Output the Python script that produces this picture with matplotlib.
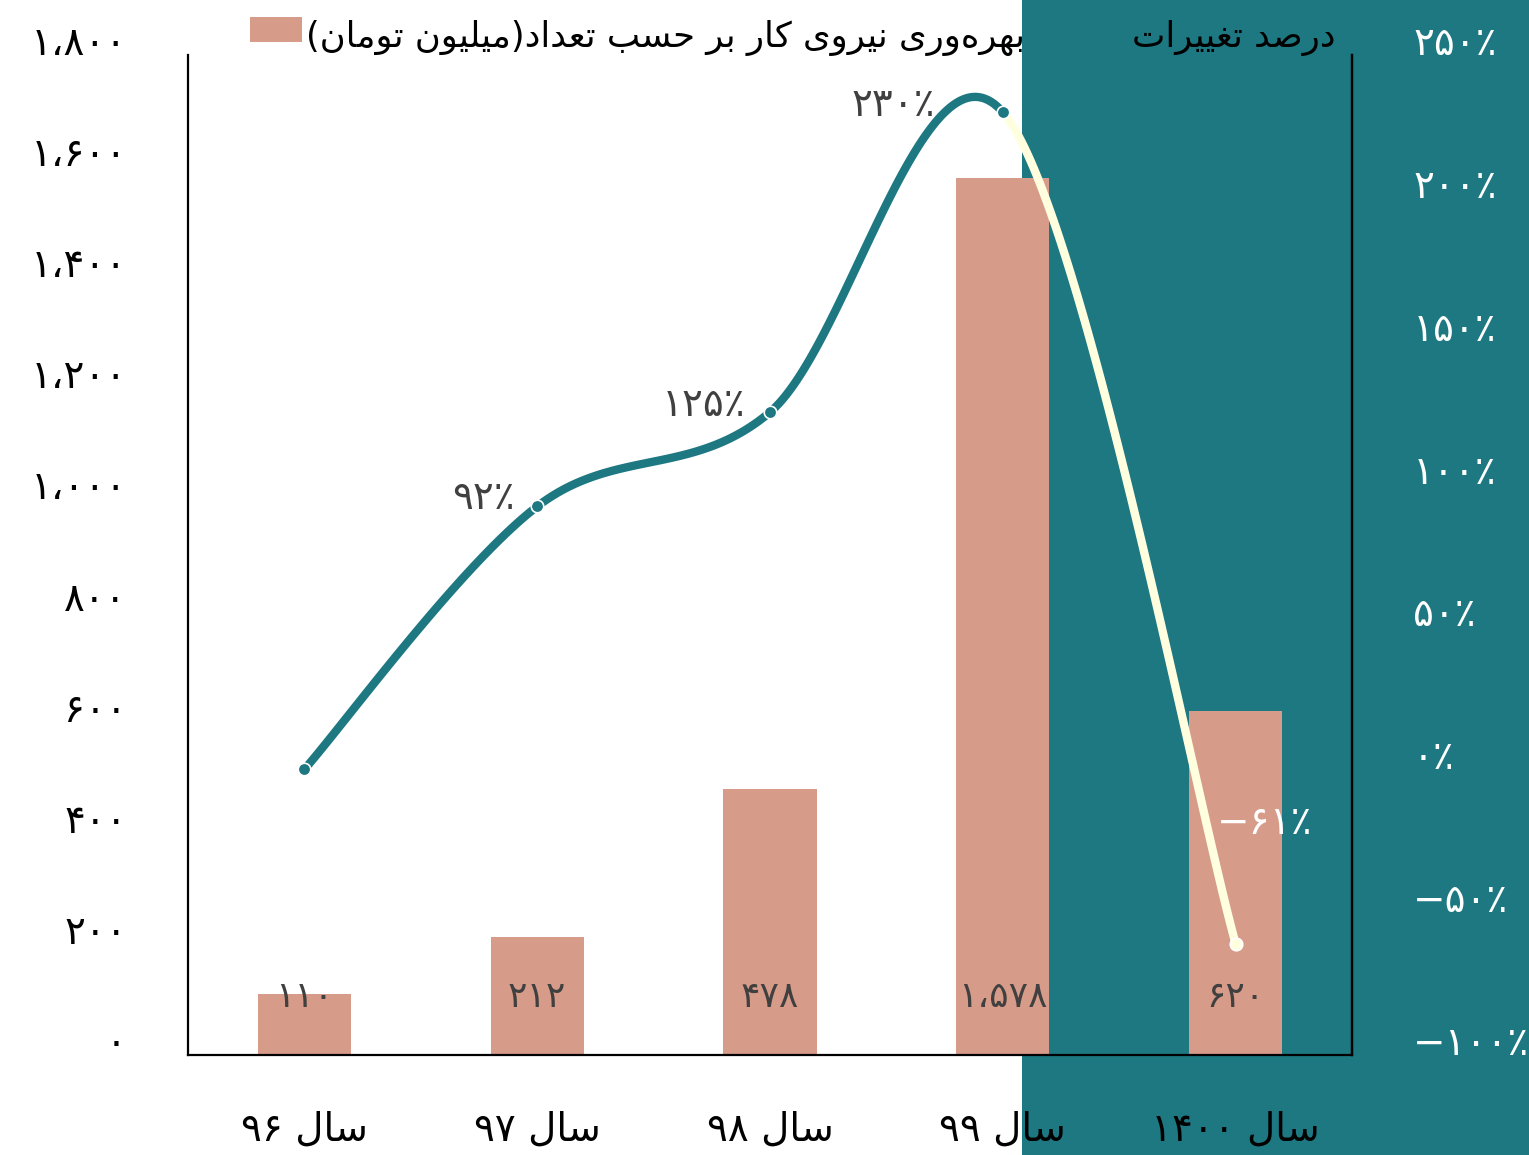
import numpy as np
import matplotlib
matplotlib.use("Agg")
import matplotlib.pyplot as plt
from matplotlib.patches import Rectangle
from matplotlib.transforms import ScaledTranslation

# ---------------- data ----------------
year_labels = ["سال ۹۶", "سال ۹۷", "سال ۹۸", "سال ۹۹", "سال ۱۴۰۰"]
productivity = [110, 212, 478, 1578, 620]          # million toman
change_pct = [0, 92, 125, 230, -61]                 # percent
show_pct_label = [False, True, True, True, True]
left_ticks = [0, 200, 400, 600, 800, 1000, 1200, 1400, 1600, 1800]
right_ticks = [-100, -50, 0, 50, 100, 150, 200, 250]
legend_bar = "بهره‌وری نیروی کار بر حسب تعداد(میلیون تومان)"
legend_line = "درصد تغییرات"

# ---------------- colours ----------------
TEAL = "#1D7882"
BAR = "#D79B89"
YELLOW = "#FFFFE0"
GRAY = "#404040"

FONT = ["DejaVu Sans"]
plt.rcParams["font.family"] = FONT

# ---------------- minimal Persian shaping ----------------
DUAL = {
    "ب": (0xFE8F, 0xFE90, 0xFE91, 0xFE92), "ت": (0xFE95, 0xFE96, 0xFE97, 0xFE98),
    "ح": (0xFEA1, 0xFEA2, 0xFEA3, 0xFEA4), "س": (0xFEB1, 0xFEB2, 0xFEB3, 0xFEB4),
    "ص": (0xFEB9, 0xFEBA, 0xFEBB, 0xFEBC), "ع": (0xFEC9, 0xFECA, 0xFECB, 0xFECC),
    "غ": (0xFECD, 0xFECE, 0xFECF, 0xFED0), "ک": (0xFB8E, 0xFB8F, 0xFB90, 0xFB91),
    "ل": (0xFEDD, 0xFEDE, 0xFEDF, 0xFEE0), "م": (0xFEE1, 0xFEE2, 0xFEE3, 0xFEE4),
    "ن": (0xFEE5, 0xFEE6, 0xFEE7, 0xFEE8), "ه": (0xFEE9, 0xFEEA, 0xFEEB, 0xFEEC),
    "ی": (0xFBFC, 0xFBFD, 0xFBFE, 0xFBFF),
}
RIGHT = {"ا": (0xFE8D, 0xFE8E), "د": (0xFEA9, 0xFEAA), "ر": (0xFEAD, 0xFEAE),
         "ز": (0xFEAF, 0xFEB0), "و": (0xFEED, 0xFEEE)}


def shape(word):
    out = []
    n = len(word)
    for i, ch in enumerate(word):
        if ch in DUAL or ch in RIGHT:
            prev = word[i - 1] if i > 0 else ""
            nxt = word[i + 1] if i < n - 1 else ""
            jp = prev in DUAL
            jn = (ch in DUAL) and (nxt in DUAL or nxt in RIGHT)
            if ch in RIGHT:
                out.append(chr(RIGHT[ch][1] if jp else RIGHT[ch][0]))
            else:
                f = DUAL[ch]
                if jp and jn:
                    out.append(chr(f[3]))
                elif jp:
                    out.append(chr(f[1]))
                elif jn:
                    out.append(chr(f[2]))
                else:
                    out.append(chr(f[0]))
        elif ch == "\u200c":
            continue
        else:
            out.append(ch)
    return "".join(out)


def is_digit_token(tok):
    return all(c in "۰۱۲۳۴۵۶۷۸۹0123456789،٪−-." for c in tok)


def rtl(text):
    toks = text.split(" ")
    vis = []
    for t in reversed(toks):
        if is_digit_token(t):
            vis.append(t)
        else:
            s = shape(t)[::-1]
            s = s.translate(str.maketrans("()", ")("))
            vis.append(s)
    return " ".join(vis)


FA = str.maketrans("0123456789", "۰۱۲۳۴۵۶۷۸۹")


def fa_num(v, sep=True):
    s = f"{abs(v):,}" if sep else f"{abs(v)}"
    s = s.replace(",", "،").translate(FA)
    return ("−" if v < 0 else "") + s


# ---------------- figure ----------------
fig = plt.figure(figsize=(15.29, 11.55), dpi=100)
fig.patch.set_facecolor("white")
fig.patches.append(Rectangle((1022 / 1529, 0), 1 - 1022 / 1529, 1,
                             transform=fig.transFigure, facecolor=TEAL,
                             edgecolor="none", zorder=-5))

ax = fig.add_axes([188 / 1529, 1 - 1055 / 1155, (1352 - 188) / 1529, 1000 / 1155])
ax.patch.set_visible(False)
x = np.arange(len(productivity))
ax.bar(x, productivity, width=0.4, color=BAR, zorder=2)
ax.set_xlim(-0.5, len(productivity) - 0.5)
ax.set_ylim(0, 1800)
ax.set_yticks(left_ticks)
ax.set_yticklabels([fa_num(v) for v in left_ticks], fontsize=28, color="black")
ax.set_xticks(x)
ax.set_xticklabels([rtl(s) for s in year_labels], fontsize=28, color="black")
ax.tick_params(axis="y", length=0, pad=44)
ax.tick_params(axis="x", length=0, pad=40)
ax.spines["top"].set_visible(False)
for sp in ["left", "bottom", "right"]:
    ax.spines[sp].set_linewidth(1.6)
    ax.spines[sp].set_color("black")

# bar value labels
for xi, v in zip(x, productivity):
    ax.text(xi, 104, fa_num(v), ha="center", va="center", fontsize=26,
            color=GRAY, zorder=5)

ax2 = ax.twinx()
ax2.patch.set_visible(False)
ax2.set_ylim(-100, 250)
ax2.set_yticks(right_ticks)
ax2.set_yticklabels([fa_num(v) + "٪" for v in right_ticks], fontsize=28, color="white")
ax2.tick_params(axis="y", length=0, pad=44)
for sp in ["top", "left", "bottom"]:
    ax2.spines[sp].set_visible(False)
ax2.spines["right"].set_linewidth(1.6)

# shift tick labels up a little
off = ScaledTranslation(0, 15 / 100, fig.dpi_scale_trans)
for lab in ax.get_yticklabels() + ax2.get_yticklabels():
    lab.set_transform(lab.get_transform() + off)

# smooth line (Catmull-Rom / Bezier)
P = np.column_stack([x, change_pct]).astype(float)
n = len(P)
for i in range(n - 1):
    p0 = P[i - 1] if i > 0 else P[i]
    p1, p2 = P[i], P[i + 1]
    p3 = P[i + 2] if i + 2 < n else P[i + 1]
    c1 = p1 + (p2 - p0) / 6
    c2 = p2 - (p3 - p1) / 6
    t = np.linspace(0, 1, 80)[:, None]
    B = (1 - t) ** 3 * p1 + 3 * (1 - t) ** 2 * t * c1 + 3 * (1 - t) * t ** 2 * c2 + t ** 3 * p2
    col = YELLOW if i == n - 2 else TEAL
    ax2.plot(B[:, 0], B[:, 1], color=col, lw=6, solid_capstyle="round", zorder=3)

for i in range(n):
    col = YELLOW if i == n - 1 else TEAL
    ax2.plot(x[i], change_pct[i], "o", ms=9, mfc=col, mec="white", mew=1.2, zorder=4)
    ax2.plot(x[i], change_pct[i], "o", ms=5, mfc=col, mec="none", zorder=4)

# percent labels
lbl_off = [(0, 0), (-22, 8), (-25, 7), (-68, 7), (29, 121)]
for i in range(n):
    if not show_pct_label[i]:
        continue
    txt = fa_num(change_pct[i], sep=False) + "٪"
    dx, dy = lbl_off[i]
    if i == n - 1:
        ax2.annotate(txt, (x[i], change_pct[i]), xytext=(dx, dy),
                     textcoords="offset pixels", ha="center", va="center",
                     fontsize=28, color="white", zorder=6)
    else:
        ax2.annotate(txt, (x[i], change_pct[i]), xytext=(dx, dy),
                     textcoords="offset pixels", ha="right", va="center",
                     fontsize=28, color=GRAY, zorder=6)

# legend (manual)
fig.patches.append(Rectangle((250 / 1529, 1 - 42 / 1155), 52 / 1529, 25 / 1155,
                             transform=fig.transFigure, facecolor=BAR,
                             edgecolor="none"))
fig.text(1025 / 1529, 1 - 38 / 1155, rtl(legend_bar), ha="right", va="center",
         fontsize=25.5, color="black")
fig.text(1335 / 1529, 1 - 38 / 1155, rtl(legend_line), ha="right", va="center",
         fontsize=25.5, color="black")

fig.savefig("out.png", dpi=100)
